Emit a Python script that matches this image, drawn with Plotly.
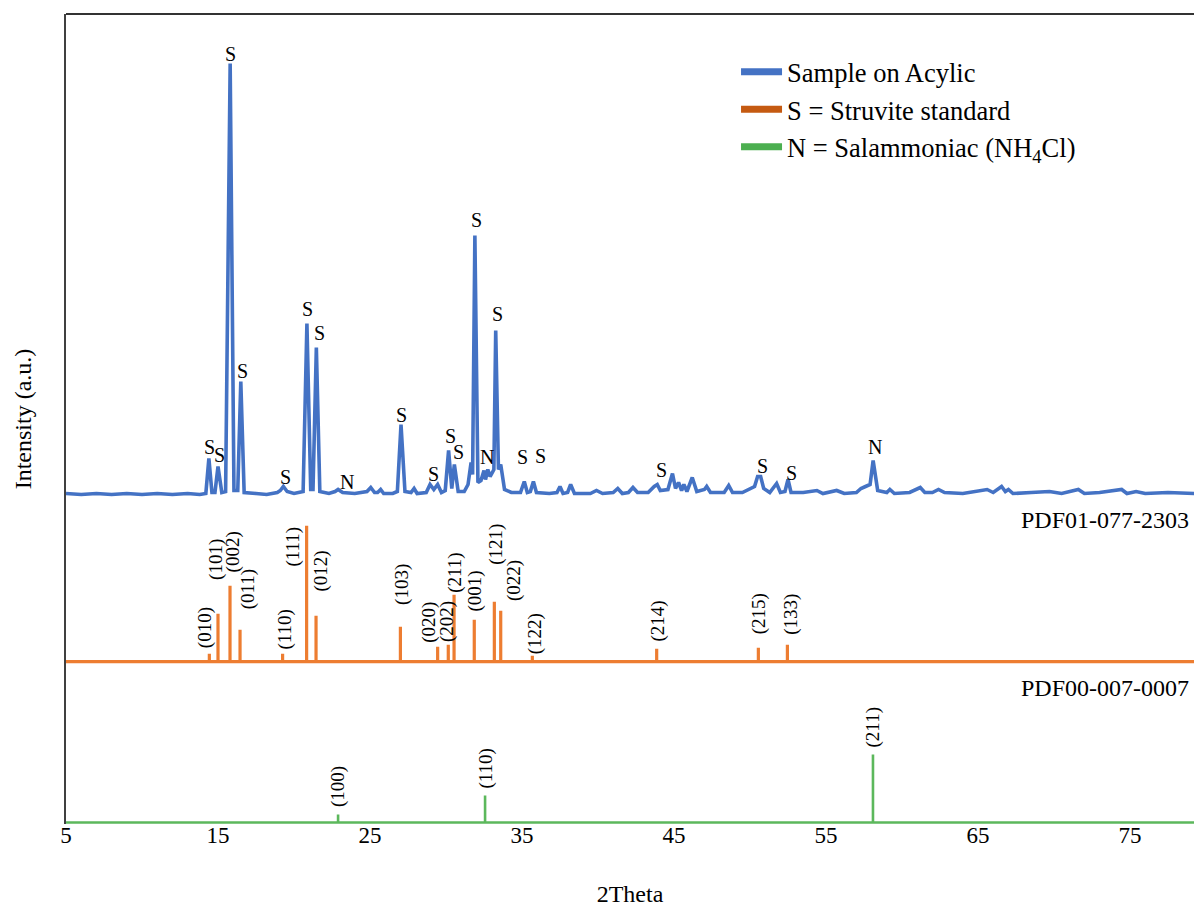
import plotly.graph_objects as go

# ---------------- data ----------------
# Measured pattern of the sample (2theta, relative intensity above its baseline)
sample_2theta = [5.0, 6.0, 7.0, 8.0, 9.0, 10.0, 11.0, 12.0, 13.0, 13.8, 14.2, 14.4, 14.6, 14.8, 15.0, 15.25,
                 15.5, 15.8, 16.05, 16.3, 16.5, 16.72, 17.5, 18.2, 18.9, 19.1, 19.3, 19.55, 20.0, 20.6, 20.85,
                 21.1, 21.25, 21.47, 21.7, 22.3, 22.7, 22.9, 23.2, 24.0, 24.8, 25.05, 25.3, 25.5, 25.7, 25.9,
                 26.5, 26.8, 27.04, 27.3, 27.7, 27.9, 28.1, 28.7, 28.95, 29.2, 29.45, 29.7, 29.95, 30.17, 30.38,
                 30.55, 30.8, 31.2, 31.45, 31.65, 31.75, 31.9, 32.1, 32.3, 32.5, 32.6, 32.75, 32.9, 33.05, 33.15,
                 33.27, 33.45, 33.6, 33.85, 34.3, 34.9, 35.15, 35.35, 35.55, 35.75, 35.95, 36.8, 37.3, 37.5,
                 37.7, 38.0, 38.2, 38.45, 39.5, 39.9, 40.3, 41.0, 41.3, 41.6, 42.0, 42.3, 42.6, 43.3, 43.7,
                 43.9, 44.1, 44.6, 44.9, 45.1, 45.3, 45.5, 45.65, 45.85, 46.2, 46.5, 47.0, 47.15, 47.4, 48.3,
                 48.6, 48.85, 49.5, 50.3, 50.5, 50.7, 50.9, 51.3, 51.75, 52.0, 52.3, 52.5, 52.7, 53.5, 54.4,
                 54.8, 55.7, 56.2, 57.0, 57.3, 57.6, 57.9, 58.1, 58.25, 58.4, 59.0, 59.2, 59.5, 60.5, 61.2,
                 61.5, 62.0, 62.4, 62.8, 64.0, 65.6, 66.0, 66.55, 66.8, 67.0, 67.3, 68.5, 69.7, 70.5, 71.6,
                 72.0, 73.0, 74.45, 74.8, 75.4, 76.0, 77.5, 78.5, 79.3]
sample_intensity = [1, 0, 1, 0, 1, 0, 1, 0, 1, 0, 1, 36, 2, 2, 28, 2,
                    3, 431, 4, 4, 113, 2, 1, 0, 2, 4, 8, 3, 1, 3, 171,
                    5, 5, 147, 3, 1, 3, 5, 2, 1, 3, 7, 2, 2, 5, 1,
                    1, 3, 70, 3, 2, 6, 1, 2, 10, 5, 10, 2, 4, 44, 6,
                    30, 3, 3, 10, 32, 20, 259, 12, 14, 24, 15, 25, 18, 22, 25,
                    164, 25, 30, 5, 2, 2, 13, 2, 3, 13, 2, 1, 2, 8,
                    1, 2, 10, 1, 1, 4, 1, 2, 6, 1, 2, 7, 2, 2, 8,
                    10, 4, 5, 21, 6, 12, 4, 10, 3, 17, 3, 5, 8, 2, 2,
                    9, 2, 2, 8, 18, 18, 6, 2, 11, 2, 3, 15, 2, 2, 4,
                    1, 4, 1, 2, 6, 8, 10, 34, 17, 4, 2, 5, 1, 2, 7,
                    2, 2, 5, 2, 1, 5, 2, 8, 3, 5, 1, 2, 3, 1, 5,
                    1, 2, 5, 1, 3, 1, 2, 1, 1]

# Peak labels on the sample pattern: letter, 2theta, label height above baseline
peak_label_text = ["S", "S", "S", "S", "S", "S", "S", "N", "S", "S", "S", "S", "S", "N",
                   "S", "S", "S", "S", "S", "S", "N"]
peak_label_2theta = [14.45, 15.1, 15.85, 16.6, 19.47, 20.9, 21.67, 23.5, 27.04, 29.16, 30.27, 30.82,
                     31.99, 32.68, 33.41, 35.04, 36.2, 44.19, 50.79, 52.76, 58.22]
peak_label_height = [48, 39.5, 441, 124, 18, 185.5, 162, 13, 80, 21, 58.5, 43,
                     275, 38, 180.5, 38, 38.5, 24.5, 28.5, 21.5, 47.5]

# Struvite standard PDF01-077-2303 (stick pattern)
struvite_2theta = [14.43, 15.0, 15.79, 16.45, 19.25, 20.83, 21.45, 27.0, 29.45, 30.15, 30.53,
                   31.86, 33.18, 33.6, 35.68, 43.86, 50.55, 52.46]
struvite_intensity = [8, 48, 76, 32, 8, 136, 46, 35, 15, 17, 67, 42, 60, 51, 6, 13, 14, 17]
struvite_hkl = ["(010)", "(101)", "(002)", "(011)", "(110)", "(111)", "(012)", "(103)", "(020)",
                "(202)", "(211)", "(001)", "(121)", "(022)", "(122)", "(214)", "(215)", "(133)"]
struvite_label_2theta = [14.14, 14.85, 16.0, 16.95, 19.4, 19.96, 21.8, 27.15, 28.84, 30.05, 30.6,
                         31.9, 33.33, 34.43, 35.86, 43.97, 50.6, 52.74]
struvite_label_height = [12, 80, 87, 50, 10, 93.5, 68, 55, 16.7, 18, 67, 48.5, 95, 58.5, 5, 18, 25, 25]

# Salammoniac NH4Cl PDF00-007-0007 (stick pattern)
nh4cl_2theta = [22.9, 32.57, 58.09]
nh4cl_intensity = [8, 27, 68]
nh4cl_hkl = ["(100)", "(110)", "(211)"]

x_ticks = [5, 15, 25, 35, 45, 55, 65, 75]

# ---------------- styling / layout constants ----------------
SAMPLE_BASE = 328.0
STRUVITE_BASE = 160.8
NH4CL_BASE = 0.0
X_MIN, X_MAX = 5.0, 79.21

BLUE = "#4472C4"
ORANGE = "#ED7D31"
GREEN = "#5CB85C"
LEG_ORANGE = "#C55A11"
LEG_GREEN = "#4CAF50"
FONT = "Liberation Serif"


def stick_path(pos, heights, base):
    xs, ys = [X_MIN], [base]
    for p, h in sorted(zip(pos, heights)):
        xs += [p, p, p]
        ys += [base, base + h, base]
    xs.append(X_MAX + 1)
    ys.append(base)
    return xs, ys


fig = go.Figure()

# measured sample
fig.add_trace(go.Scatter(x=sample_2theta, y=[SAMPLE_BASE + v for v in sample_intensity],
                         mode="lines", line=dict(color=BLUE, width=3.6), showlegend=False,
                         hoverinfo="skip"))

# struvite sticks
sx, sy = stick_path(struvite_2theta, struvite_intensity, STRUVITE_BASE)
fig.add_trace(go.Scatter(x=sx, y=sy, mode="lines", line=dict(color=ORANGE, width=3.2),
                         showlegend=False, hoverinfo="skip"))

# NH4Cl sticks
nx, ny = stick_path(nh4cl_2theta, nh4cl_intensity, NH4CL_BASE)
fig.add_trace(go.Scatter(x=nx, y=ny, mode="lines", line=dict(color=GREEN, width=2.6),
                         showlegend=False, hoverinfo="skip"))

# legend entries
legend_items = [("Sample on Acylic", BLUE),
                ("S = Struvite standard", LEG_ORANGE),
                ("N = Salammoniac (NH<sub>4</sub>Cl)", LEG_GREEN)]
for i, (name, col) in enumerate(legend_items):
    fig.add_trace(go.Scatter(x=[None], y=[None], mode="lines", name=name,
                             line=dict(color=col, width=7), legendgroup=f"g{i}"))

annotations = []
for t, x, h in zip(peak_label_text, peak_label_2theta, peak_label_height):
    annotations.append(dict(x=x, y=SAMPLE_BASE + h, text=t, showarrow=False,
                            xanchor="center", yanchor="middle",
                            font=dict(family=FONT, size=20, color="black")))
for t, x, h in zip(struvite_hkl, struvite_label_2theta, struvite_label_height):
    annotations.append(dict(x=x, y=STRUVITE_BASE + h, text=t, showarrow=False, textangle=-90,
                            xanchor="center", yanchor="bottom",
                            font=dict(family=FONT, size=19, color="black")))
for t, x, h in zip(nh4cl_hkl, nh4cl_2theta, nh4cl_intensity):
    annotations.append(dict(x=x, y=NH4CL_BASE + h + 5, text=t, showarrow=False, textangle=-90,
                            xanchor="center", yanchor="bottom",
                            font=dict(family=FONT, size=19, color="black")))
annotations.append(dict(x=0.997, xref="paper", y=STRUVITE_BASE + 141.5, text="PDF01-077-2303",
                        showarrow=False, xanchor="right", yanchor="middle",
                        font=dict(family=FONT, size=24, color="black")))
annotations.append(dict(x=0.997, xref="paper", y=NH4CL_BASE + 134.5, text="PDF00-007-0007",
                        showarrow=False, xanchor="right", yanchor="middle",
                        font=dict(family=FONT, size=24, color="black")))

fig.update_layout(
    width=1194, height=912,
    margin=dict(l=66, r=0, t=14, b=88, autoexpand=False),
    paper_bgcolor="white", plot_bgcolor="white",
    font=dict(family=FONT, color="black"),
    annotations=annotations,
    shapes=[dict(type="line", xref="paper", yref="paper", x0=0, x1=1, y0=1, y1=1,
                 line=dict(color="#333333", width=2))],
    legend=dict(x=0.594, y=0.958, xanchor="left", yanchor="top", bgcolor="rgba(0,0,0,0)",
                font=dict(family=FONT, size=26.5, color="black"), tracegroupgap=0,
                itemwidth=41),
    xaxis=dict(range=[X_MIN, X_MAX], tickvals=x_ticks, ticktext=[str(v) for v in x_ticks],
               showgrid=False, zeroline=False, showline=False, ticks="",
               ticklabelstandoff=-5,
               tickfont=dict(family=FONT, size=23, color="black"),
               title=dict(text="2Theta", font=dict(family=FONT, size=24, color="black"), standoff=38)),
    yaxis=dict(range=[-1.5, 808.5], showgrid=False, zeroline=False, showticklabels=False,
               ticks="", showline=True, linecolor="#404040", linewidth=2,
               title=dict(text="Intensity (a.u.)", font=dict(family=FONT, size=24, color="black"),
                          standoff=26)),
)

fig.write_html("out.html", config={"displayModeBar": False},
               post_script="document.body.style.margin='0';document.body.style.overflow='hidden';")
